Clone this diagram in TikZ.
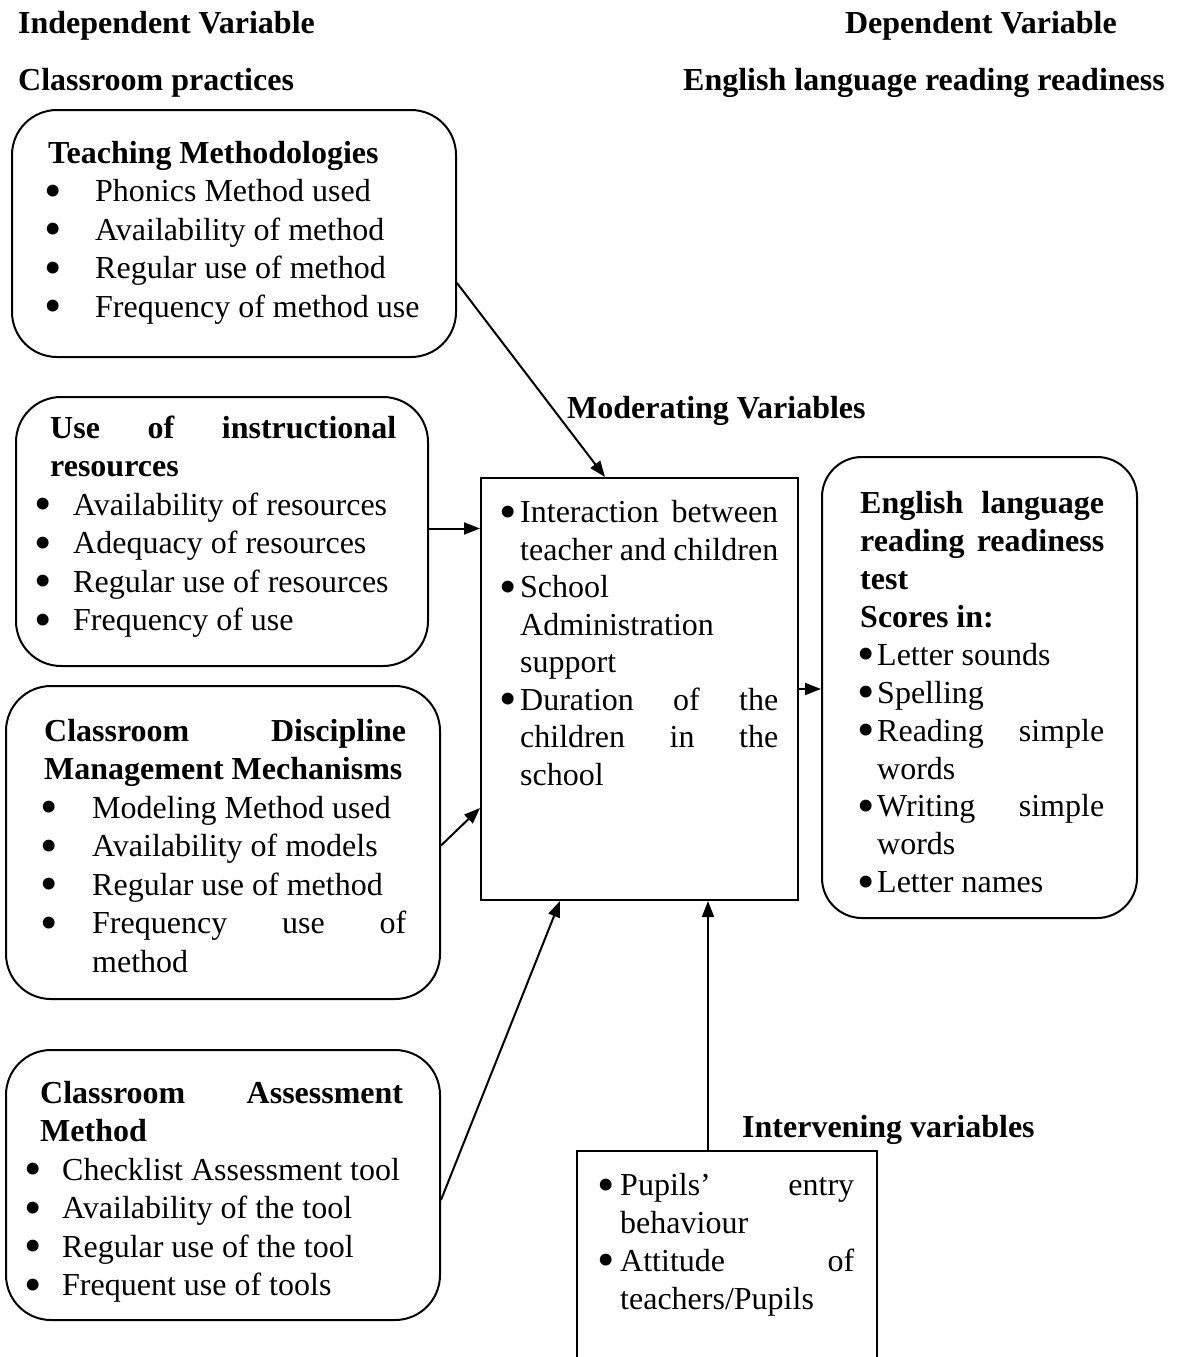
\documentclass[tikz,border=0pt]{standalone}
\usepackage{fontspec}
\usepackage{graphicx}
\setmainfont{Liberation Serif}
\usetikzlibrary{arrows.meta, positioning, calc}

% text inside the boxes, #1 = line spacing
\newcommand\boxfont[1]{\fontsize{32}{#1}\selectfont\parindent=0pt\hyphenpenalty=10000\tolerance=10000\hbadness=10000\relax}
% bullet line: #1 bullet centre, #2 text offset
\newcommand\bigdot{\raisebox{-5.5pt}{\scalebox{1.55}{\textbullet}}}
\newcommand\bitem[3]{\par\hangindent=#2pt\hangafter=1\noindent\strut\makebox[#2pt][l]{\hspace*{#1pt}\makebox[0pt]{\bigdot}}#3}

\begin{document}
\begin{tikzpicture}[
    x=1pt, y=-1pt,
    >={Triangle[length=16pt,width=12pt]},
    rbox/.style={draw, line width=2pt, rounded corners=45pt},
    sbox/.style={draw, line width=2pt},
    txt/.style={anchor=north west, inner sep=0pt, align=justify, font=\boxfont{38.5}},
    head/.style={inner sep=0pt, font=\fontsize{32}{38.5}\selectfont\bfseries},
    arr/.style={->, line width=2pt}
]
    \useasboundingbox (0,0) rectangle (1178,1357);
    \clip (0,0) rectangle (1178,1357);

    % Headings
    \node[head, anchor=base west] (indep) at (18,33) {Independent Variable};
    \node[head, anchor=base east] (dep) at (1117,33) {Dependent Variable};
    \node[head, anchor=base west] (practices) at (18,90) {Classroom practices};
    \node[head, anchor=base east] (readiness) at (1165,90) {English language reading readiness};
    \node[head, anchor=base west] (modlabel) at (567,418) {Moderating Variables};
    \node[head, anchor=base west] (intlabel) at (742,1137) {Intervening variables};

    % --- BOXES ---
    \node[rbox, minimum width=444pt, minimum height=247pt] (teach) at (234,233.5) {};
    \node[rbox, minimum width=412pt, minimum height=269pt] (resource) at (222,531.5) {};
    \node[rbox, minimum width=434pt, minimum height=313pt] (discipline) at (223,842.5) {};
    \node[rbox, minimum width=434pt, minimum height=270pt] (assess) at (223,1185) {};
    \node[sbox, minimum width=317pt, minimum height=422pt] (moderate) at (639.5,689) {};
    \node[rbox, rounded corners=40pt, minimum width=315pt, minimum height=461pt] (readtest) at (979.5,687.5) {};
    \node[sbox, minimum width=300pt, minimum height=248pt] (intervene) at (727,1275) {};

    % --- BOX TEXTS ---
    \node[txt, text width=380pt] (teachtext) at (48,136) {\strut\textbf{Teaching Methodologies}
        \bitem{4.5}{47}{Phonics Method used}
        \bitem{4.5}{47}{Availability of method}
        \bitem{4.5}{47}{Regular use of method}
        \bitem{4.5}{47}{Frequency of method use}\par};

    \node[txt, text width=346pt] (resourcetext) at (50,411) {\strut\textbf{Use of instructional resources}
        \bitem{-7.5}{23}{Availability of resources}
        \bitem{-7.5}{23}{Adequacy of resources}
        \bitem{-7.5}{23}{Regular use of resources}
        \bitem{-7.5}{23}{Frequency of use}\par};

    \node[txt, text width=362pt] (disciplinetext) at (44,714) {\strut\textbf{Classroom Discipline Management Mechanisms}
        \bitem{5}{48}{Modeling Method used}
        \bitem{5}{48}{Availability of models}
        \bitem{5}{48}{Regular use of method}
        \bitem{5}{48}{Frequency use of method}\par};

    \node[txt, text width=363pt] (assesstext) at (40,1076) {\strut\textbf{Classroom Assessment Method}
        \bitem{-7.5}{22}{Checklist Assessment tool}
        \bitem{-7.5}{22}{Availability of the tool}
        \bitem{-7.5}{22}{Regular use of the tool}
        \bitem{-7.5}{22}{Frequent use of tools}\par};

    \node[txt, text width=276pt, font=\boxfont{37.5}] (moderatetext) at (502,485) {%
        \bitem{6}{18}{Interaction between teacher and children}
        \bitem{6}{18}{School Administration support}
        \bitem{6}{18}{Duration of the\linebreak children in the school}\par};

    \node[txt, text width=244pt, font=\boxfont{37.9}] (readtesttext) at (860,487) {\strut\textbf{English language reading readiness test}
        \par\textbf{Scores in:}
        \bitem{5.5}{17}{Letter sounds}
        \bitem{5.5}{17}{Spelling}
        \bitem{5.5}{17}{Reading simple words}
        \bitem{5.5}{17}{Writing simple words}
        \bitem{5.5}{17}{Letter names}\par};

    \node[txt, text width=257pt, font=\boxfont{37.7}] (intervenetext) at (597,1158) {%
        \bitem{8.5}{23}{Pupils’ entry behaviour}
        \bitem{8.5}{23}{Attitude of teachers/Pupils}\par};

    % --- ARROWS ---
    \draw[arr] ([yshift=-49.5pt]teach.east) -- ([xshift=-34.5pt]moderate.north);
    \draw[arr] ([yshift=3pt]resource.east) -- ([yshift=3pt]resource.east -| moderate.west);
    \draw[arr] (moderate.east) -- (moderate.east -| readtest.west);
    \draw[arr] ([yshift=-3pt]discipline.east) -- ([yshift=-119pt]moderate.west);
    \draw[arr] ([yshift=-15pt]assess.east) -- ([xshift=-79.5pt]moderate.south);
    \draw[arr] ([xshift=-19pt]intervene.north) -- ([xshift=-19pt]intervene.north |- moderate.south);

\end{tikzpicture}
\end{document}
